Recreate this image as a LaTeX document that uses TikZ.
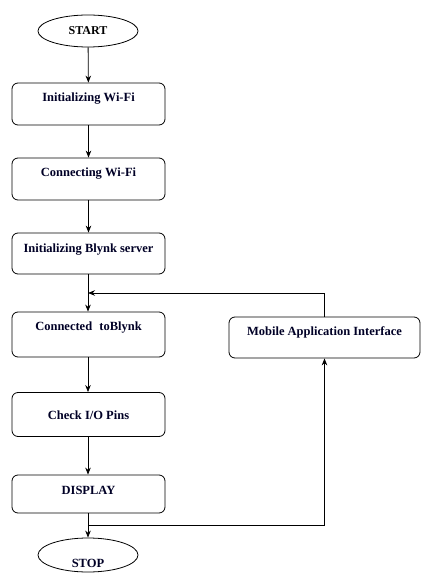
\documentclass[tikz,border=0pt]{standalone}
\usepackage{fontspec}
\setmainfont{Liberation Serif}
\usetikzlibrary{shapes.geometric,arrows.meta}
\begin{document}
\begin{tikzpicture}[x=1pt,y=-1pt,
  box/.style={draw,rounded corners=6pt,line width=0.8pt,minimum width=153pt,inner sep=0pt},
  term/.style={draw,ellipse,line width=0.8pt,minimum width=100pt,minimum height=32pt,inner sep=0pt,font=\fontsize{12}{14}\selectfont\bfseries},
  lbl/.style={font=\fontsize{12.5}{14}\selectfont\bfseries,inner sep=0pt,text=black!85!blue},
  arr/.style={line width=0.8pt,-{Stealth[length=7pt,width=5.5pt]}},
  ln/.style={line width=0.8pt}]
\useasboundingbox[fill=white] (0,0) rectangle (422,580);
\node[term] (start) at (88,31) {START};
\node[box,minimum height=42pt] (b1) at (88.5,104) {};
\node[lbl] (t1) at (88.5,99) {Initializing Wi-Fi};
\node[box,minimum height=42pt] (b2) at (88.5,179) {};
\node[lbl] (t2) at (88.5,174) {Connecting Wi-Fi};
\node[box,minimum height=41pt] (b3) at (88.5,253.5) {};
\node[lbl] (t3) at (88.5,250) {Initializing Blynk server};
\node[box,minimum height=45pt] (b4) at (88.5,334.5) {};
\node[lbl] (t4) at (88.5,328) {Connected\hspace{4pt} toBlynk};
\node[box,minimum height=44pt] (b5) at (88.5,414.5) {};
\node[lbl] (t5) at (88.5,415) {Check I/O Pins};
\node[box,minimum height=38pt] (b6) at (88.5,494) {};
\node[lbl] (t6) at (88.5,490) {DISPLAY};
\node[term,minimum height=34pt] (stop) at (88,555) {};
\node[lbl] (t7) at (88,563) {STOP};
\node[box,minimum width=191pt,minimum height=41pt] (mai) at (324.5,337.5) {};
\node[lbl] (t8) at (324.5,332) {Mobile Application Interface};
\coordinate (j1) at (88,293);
\coordinate (j2) at (88,525);
\coordinate (m1) at (mai.north |- j1);
\coordinate (m2) at (mai.south |- j2);
\draw[arr] (start) -- (b1);
\draw[arr] (b1) -- (b2);
\draw[arr] (b2) -- (b3);
\draw[arr] (b3.south -| start) -- (b4.north -| start);
\draw[arr] (b4.south -| start) -- (b5.north -| start);
\draw[arr] (b5.south -| start) -- (b6.north -| start);
\draw[arr] (b6.south -| start) -- (stop);
\draw[arr] (mai.north) -- (m1) -- (j1);
\draw[ln] (j2) -- (m2);
\draw[arr] (m2) -- (mai.south);
\end{tikzpicture}
\end{document}
